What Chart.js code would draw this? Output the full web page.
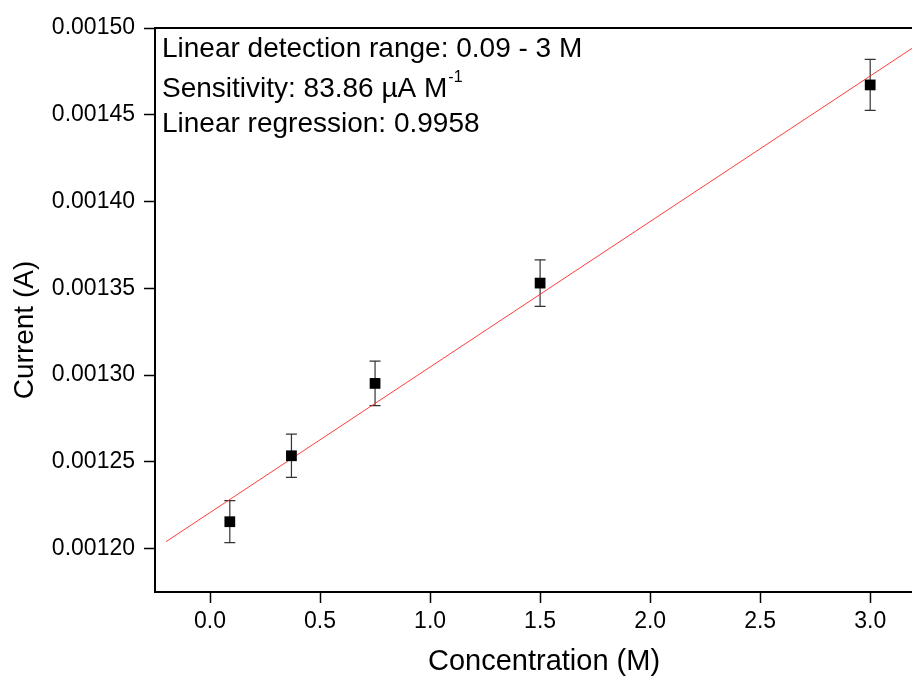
<!DOCTYPE html>
<html>
<head>
<meta charset="utf-8">
<script src="https://cdn.jsdelivr.net/npm/chart.js@4/dist/chart.umd.min.js"></script>
<style>
  html, body { margin: 0; padding: 0; background: #fff; }
  #wrap { width: 912px; height: 682px; }
</style>
</head>
<body>
<div id="wrap"><canvas id="calib-chart" width="912" height="682"></canvas></div>
<script>
// Data
const concentration = [0.09, 0.37, 0.75, 1.5, 3.0];
const current = [0.0012155, 0.0012535, 0.0012952, 0.001353, 0.0014672];
const currentErr = [0.0000121, 0.0000125, 0.0000128, 0.0000134, 0.0000147];

// Linear fit line end points
const fitX = [-0.2, 3.25];
const fitY = [0.001204, 0.0014933];

const xTicks = [0, 0.5, 1.0, 1.5, 2.0, 2.5, 3.0];
const yTicks = [0.0012, 0.00125, 0.0013, 0.00135, 0.0014, 0.00145, 0.0015];

const notes = ['Linear detection range: 0.09 - 3 M', 'Sensitivity: 83.86 \u00b5A M', 'Linear regression: 0.9958'];

const FONT = '"Liberation Sans", Arial, sans-serif';

// error bars drawn under the markers
const errorBars = {
  id: 'errorBars',
  beforeDatasetsDraw(chart) {
    const { ctx, scales } = chart;
    ctx.save();
    ctx.strokeStyle = '#333';
    ctx.lineWidth = 1.2;
    concentration.forEach((c, i) => {
      const px = scales.x.getPixelForValue(c);
      const top = scales.y.getPixelForValue(current[i] + currentErr[i]);
      const bot = scales.y.getPixelForValue(current[i] - currentErr[i]);
      ctx.beginPath();
      ctx.moveTo(px, top); ctx.lineTo(px, bot);
      ctx.moveTo(px - 5.5, top); ctx.lineTo(px + 5.5, top);
      ctx.moveTo(px - 5.5, bot); ctx.lineTo(px + 5.5, bot);
      ctx.stroke();
    });
    ctx.restore();
  }
};

// note block in the top left corner and the two axis titles
const noteText = {
  id: 'noteText',
  afterDraw(chart) {
    const { ctx, chartArea } = chart;
    ctx.save();
    ctx.fillStyle = '#000';
    ctx.textBaseline = 'alphabetic';
    ctx.font = '28px ' + FONT;
    const x0 = chartArea.left + 7;
    const lines = [57, 97, 132];
    notes.forEach((t, i) => ctx.fillText(t, x0, lines[i]));
    // superscript on M
    const w = ctx.measureText(notes[1]).width;
    ctx.font = '16px ' + FONT;
    ctx.fillText('-1', x0 + w + 1, lines[1] - 15);

    // axis titles
    ctx.textAlign = 'center';
    ctx.textBaseline = 'middle';
    ctx.font = '29px ' + FONT;
    ctx.fillText('Concentration (M)', 544, 662);
    ctx.translate(25, 330);
    ctx.rotate(-Math.PI / 2);
    ctx.font = '28px ' + FONT;
    ctx.fillText('Current (A)', 0, 0);
    ctx.restore();
  }
};

new Chart(document.getElementById('calib-chart'), {
  type: 'scatter',
  data: {
    datasets: [{
      label: 'Current',
      data: concentration.map((c, i) => ({ x: c, y: current[i] })),
      pointStyle: 'rect',
      pointRadius: 7.6,
      pointBackgroundColor: '#000',
      pointBorderWidth: 0,
      showLine: false
    }, {
      label: 'Fit',
      data: fitX.map((x, i) => ({ x: x, y: fitY[i] })),
      showLine: true,
      borderColor: 'rgba(255, 40, 40, 0.9)',
      borderWidth: 1,
      pointRadius: 0
    }]
  },
  options: {
    responsive: false,
    animation: false,
    events: [],
    layout: { padding: 0, autoPadding: false },
    plugins: { legend: { display: false }, tooltip: { enabled: false } },
    scales: {
      x: {
        type: 'linear',
        min: -0.25,
        max: 3.19,
        afterBuildTicks: s => { s.ticks = xTicks.map(v => ({ value: v })); },
        afterFit: s => { s.height = 90; s.paddingLeft = 0; s.paddingRight = 0; },
        grid: { drawOnChartArea: false, drawTicks: true, tickLength: 11, tickWidth: 1.5, tickColor: '#000' },
        border: { display: true, color: '#000', width: 2 },
        ticks: {
          color: '#000', padding: 5, maxRotation: 0,
          font: { family: FONT, size: 23 },
          callback: v => v.toFixed(1)
        }
      },
      xTop: {
        type: 'linear',
        position: 'top',
        min: -0.25,
        max: 3.19,
        afterFit: s => { s.height = 28; s.paddingLeft = 0; s.paddingRight = 0; },
        grid: { display: false },
        border: { display: true, color: '#000', width: 2 },
        ticks: { display: false }
      },
      y: {
        type: 'linear',
        min: 0.001175,
        max: 0.0015,
        afterBuildTicks: s => { s.ticks = yTicks.map(v => ({ value: v })); },
        afterFit: s => { s.width = 155; s.paddingTop = 0; s.paddingBottom = 0; },
        grid: { drawOnChartArea: false, drawTicks: true, tickLength: 11, tickWidth: 1.5, tickColor: '#000' },
        border: { display: true, color: '#000', width: 2 },
        ticks: {
          color: '#000', padding: 9,
          font: { family: FONT, size: 23 },
          callback: v => v.toFixed(5)
        }
      }
    }
  },
  plugins: [errorBars, noteText]
});
</script>
</body>
</html>
